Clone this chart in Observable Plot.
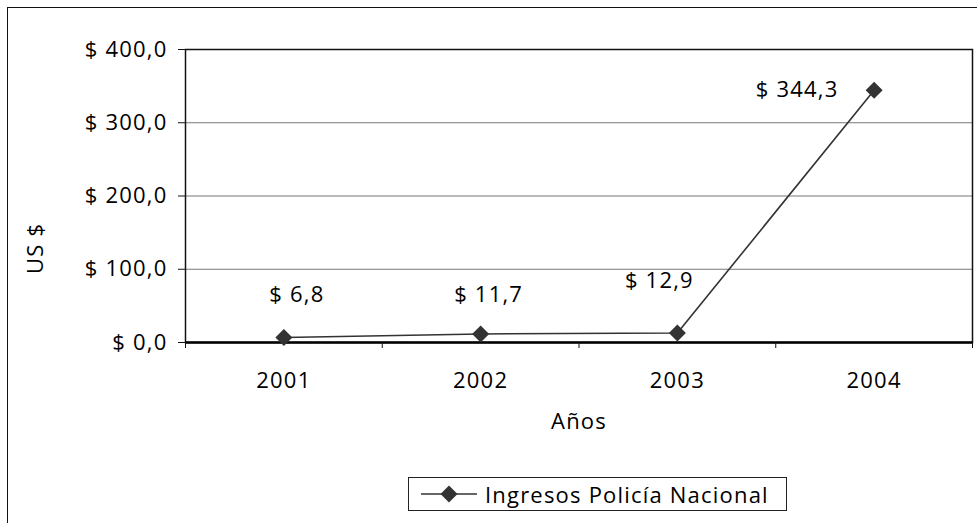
<!DOCTYPE html>
<html>
<head>
<meta charset="utf-8">
<script src="https://cdn.jsdelivr.net/npm/d3@7"></script>
<script src="https://cdn.jsdelivr.net/npm/@observablehq/plot@0.6"></script>
<style>
  html, body { margin: 0; padding: 0; background: #fff; overflow: hidden; }
  body { width: 977px; height: 523px; position: relative; font-family: "Open Sans", sans-serif; }
  #frame { position: absolute; left: 7px; top: 7px; width: 1000px; height: 600px; border: 1.5px solid #111; box-sizing: border-box; }
  #chart { position: absolute; left: 0; top: 0; }
  #chart svg text { letter-spacing: 1.2px; }
  #legend { position: absolute; left: 408px; top: 477px; width: 379px; height: 34px; border: 1px solid #222; box-sizing: border-box; display: flex; align-items: center; font-size: 22px; letter-spacing: 1.2px; color: #000; }
  #legend svg { margin-left: 12px; margin-right: 8px; }
</style>
</head>
<body>
<div id="frame"></div>
<div id="chart"></div>
<div id="legend"></div>
<script>
const years = [2001, 2002, 2003, 2004];
const values = [6.8, 11.7, 12.9, 344.3];
const yTicks = [0, 100, 200, 300, 400];
const seriesName = "Ingresos Policía Nacional";
const yLabel = "US $";
const xLabel = "Años";

const data = years.map((y, i) => ({year: y, value: values[i]}));
const bounds = [years[0] - 0.5, ...years.map(y => y + 0.5)];
const fmt = v => "$ " + v.toFixed(1).replace(".", ",");

// label offsets (as in original, manually placed labels)
const labelOffsets = [[13, -43], [8, -39], [-18, -52], [-77, 0]];

const font = "Open Sans, sans-serif";
const chart = Plot.plot({
  width: 977,
  height: 462,
  marginLeft: 185,
  marginRight: 5,
  marginTop: 49,
  marginBottom: 120,
  style: {fontFamily: font, fontSize: "22px", color: "#000", background: "transparent", overflow: "visible"},
  x: {type: "linear", domain: [bounds[0], bounds[bounds.length - 1]]},
  y: {domain: [0, 400]},
  marks: [
    Plot.gridY(yTicks.slice(1, -1), {stroke: "#777", strokeOpacity: 1, strokeWidth: 1.2}),
    Plot.frame({stroke: "#111", strokeWidth: 1.5}),
    Plot.ruleY([0], {stroke: "#000", strokeWidth: 2.5}),
    Plot.axisY(yTicks, {tickSize: 7, tickPadding: 11, tickFormat: fmt, label: null, stroke: "#111"}),
    Plot.axisX(bounds, {tickSize: 6, tickFormat: () => "", label: null, stroke: "#111"}),
    Plot.axisX(years, {tickSize: 0, tickPadding: 30, tickFormat: d => String(d), label: null}),
    Plot.text([yLabel], {frameAnchor: "left", rotate: -90, dx: -150, dy: 78, fontSize: 22}),
    Plot.text([xLabel], {frameAnchor: "bottom", dy: 86, fontSize: 22}),
    Plot.line(data, {x: "year", y: "value", stroke: "#333", strokeWidth: 1.6}),
    Plot.dot(data, {x: "year", y: "value", symbol: "square", r: 6.8, rotate: 45, fill: "#333", stroke: "none"}),
    ...data.map((d, i) => Plot.text([d], {x: "year", y: "value", text: e => fmt(e.value), dx: labelOffsets[i][0], dy: labelOffsets[i][1], fontSize: 22, fill: "#000"}))
  ]
});
document.getElementById("chart").appendChild(chart);

// legend
const lg = document.getElementById("legend");
const ns = "http://www.w3.org/2000/svg";
const sw = document.createElementNS(ns, "svg");
sw.setAttribute("width", 56); sw.setAttribute("height", 20);
sw.innerHTML = '<line x1="0" y1="10" x2="56" y2="10" stroke="#333" stroke-width="1.6"/>' +
  '<rect x="22" y="4" width="12" height="12" fill="#333" transform="rotate(45 28 10)"/>';
lg.appendChild(sw);
const sp = document.createElement("span");
sp.textContent = seriesName;
lg.appendChild(sp);
</script>
</body>
</html>
